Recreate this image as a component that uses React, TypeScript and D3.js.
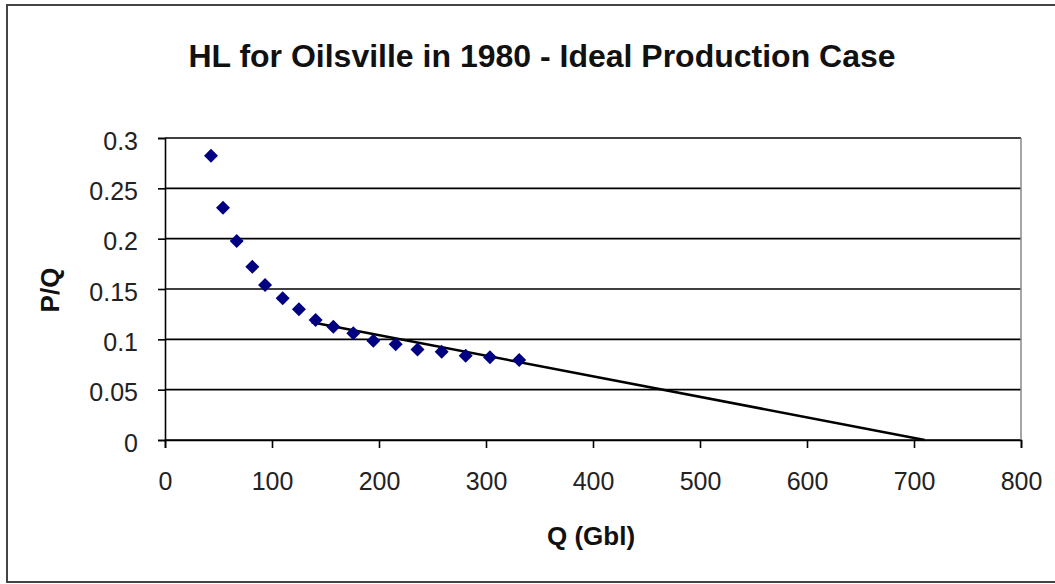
import React, { useEffect, useRef } from 'react';
import { select, scaleLinear, line, axisLeft, axisBottom } from 'd3';

// Q (Gbl) and P/Q
const qValues = [43, 54.2, 67, 81.6, 93.5, 110, 125.2, 140.8, 157.3, 176, 194.7, 215.6, 236, 258.6, 281, 303.7, 331];
const pqValues = [0.2824, 0.2308, 0.1977, 0.172, 0.154, 0.1407, 0.1298, 0.1192, 0.1126, 0.106, 0.0987, 0.095, 0.09, 0.0877, 0.0838, 0.0821, 0.0795];

// linear trendline endpoints
const trendQ = [137, 710];
const trendPQ = [0.117, 0];

const xTicks = [0, 100, 200, 300, 400, 500, 600, 700, 800];
const yTicks = [0, 0.05, 0.1, 0.15, 0.2, 0.25, 0.3];

const W = 1055;
const H = 584;

const App = () => {
  const svgRef = useRef<SVGSVGElement>(null);

  useEffect(() => {
    const svg = select(svgRef.current);
    svg.selectAll('*').remove();

    const left = 165, right = 1021, top = 138, bottom = 440;
    const font = 'Arial, "Liberation Sans", sans-serif';

    const x = scaleLinear().domain([0, 800]).range([left, right]);
    const y = scaleLinear().domain([0, 0.3]).range([bottom, top]);

    // outer frame
    svg.append('rect')
      .attr('x', 7).attr('y', 5)
      .attr('width', W + 20).attr('height', 577)
      .attr('fill', '#fff')
      .attr('stroke', '#444')
      .attr('stroke-width', 2);

    // title
    svg.append('text')
      .attr('x', 542).attr('y', 67)
      .attr('text-anchor', 'middle')
      .attr('font-family', font)
      .attr('font-weight', 'bold')
      .attr('font-size', 32)
      .attr('fill', '#111')
      .text('HL for Oilsville in 1980 - Ideal Production Case');

    // gridlines
    svg.append('g')
      .selectAll('line')
      .data(yTicks)
      .join('line')
      .attr('x1', left).attr('x2', right)
      .attr('y1', d => y(d)).attr('y2', d => y(d))
      .attr('stroke', '#000')
      .attr('stroke-width', 1.6);

    // plot right edge
    svg.append('line')
      .attr('x1', right).attr('x2', right)
      .attr('y1', top).attr('y2', bottom)
      .attr('stroke', '#888')
      .attr('stroke-width', 1.5);

    const yAxis = svg.append('g')
      .attr('transform', `translate(${left},0)`)
      .call(axisLeft(y).tickValues(yTicks).tickSize(7).tickPadding(20).tickFormat(d => String(+d)));
    const xAxis = svg.append('g')
      .attr('transform', `translate(0,${bottom})`)
      .call(axisBottom(x).tickValues(xTicks).tickSize(8).tickPadding(24).tickFormat(d => String(d)));

    [yAxis, xAxis].forEach(g => {
      g.select('.domain').attr('stroke', '#000').attr('stroke-width', 1.6);
      g.selectAll('.tick line').attr('stroke', '#000').attr('stroke-width', 1.6);
      g.selectAll('.tick text')
        .attr('font-family', font)
        .attr('font-size', 25)
        .attr('fill', '#222');
    });
    yAxis.selectAll('.tick text').attr('dy', '0.45em');

    // trendline
    const trend = line<number>()
      .x((d, i) => x(trendQ[i]))
      .y(d => y(d));
    svg.append('path')
      .attr('d', trend(trendPQ))
      .attr('fill', 'none')
      .attr('stroke', '#000')
      .attr('stroke-width', 2.5);

    // diamond markers
    const r = 7;
    svg.append('g')
      .selectAll('path')
      .data(qValues)
      .join('path')
      .attr('d', (d, i) => {
        const cx = x(d), cy = y(pqValues[i]);
        return `M${cx},${cy - r}L${cx + r},${cy}L${cx},${cy + r}L${cx - r},${cy}Z`;
      })
      .attr('fill', '#000080');

    // axis titles
    svg.append('text')
      .attr('x', 591).attr('y', 545)
      .attr('text-anchor', 'middle')
      .attr('font-family', font)
      .attr('font-weight', 'bold')
      .attr('font-size', 26)
      .attr('fill', '#111')
      .text('Q (Gbl)');

    svg.append('text')
      .attr('transform', 'translate(59,290) rotate(-90)')
      .attr('text-anchor', 'middle')
      .attr('font-family', font)
      .attr('font-weight', 'bold')
      .attr('font-size', 26)
      .attr('fill', '#111')
      .text('P/Q');
  }, []);

  return (
    <svg ref={svgRef} width={W} height={H}
      style={{ position: 'absolute', left: 0, top: 0, background: '#fff' }} />
  );
};

export default App;
